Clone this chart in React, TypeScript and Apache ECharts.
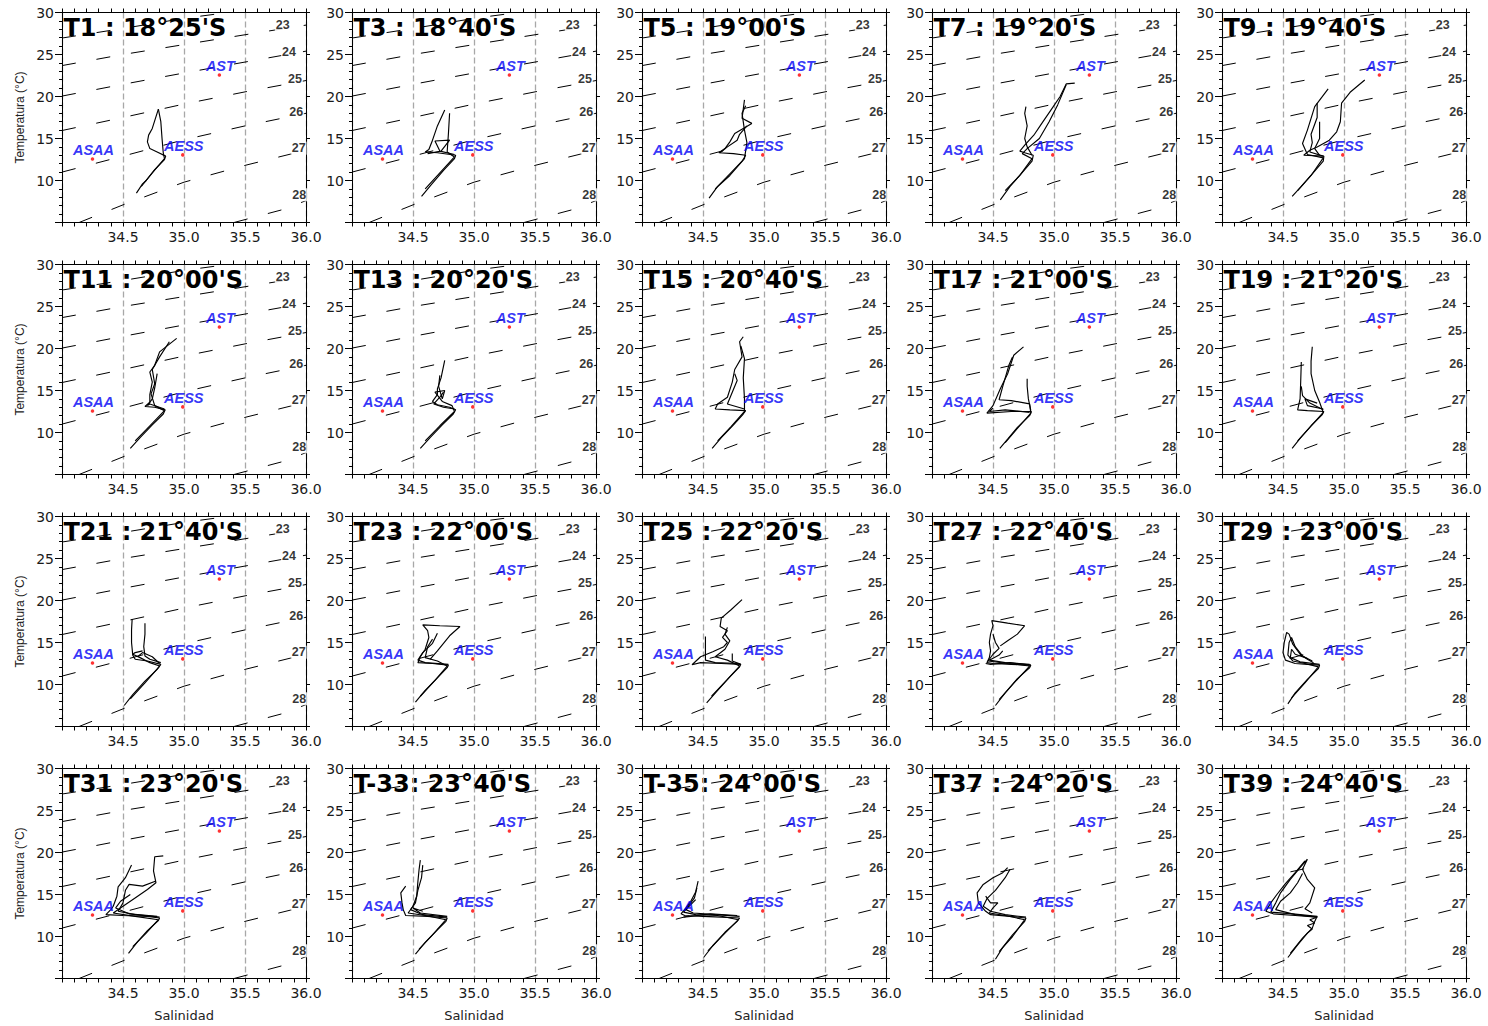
import React, { useEffect, useRef } from 'react';
import * as echarts from 'echarts';

// Transect titles, in reading order (5 per row)
const TRANSECT_TITLES = [
  "T1 : 18°25'S", "T3 : 18°40'S", "T5 : 19°00'S", "T7 : 19°20'S", "T9 : 19°40'S",
  "T11 : 20°00'S", "T13 : 20°20'S", "T15 : 20°40'S", "T17 : 21°00'S", "T19 : 21°20'S",
  "T21 : 21°40'S", "T23 : 22°00'S", "T25 : 22°20'S", "T27 : 22°40'S", "T29 : 23°00'S",
  "T31 : 23°20'S", "T-33: 23°40'S", "T-35: 24°00'S", "T37 : 24°20'S", "T39 : 24°40'S",
];

// Axis ranges
const SAL_MIN = 34, SAL_MAX = 36, SAL_STEP = 0.5;
const TEMP_MIN = 5, TEMP_MAX = 30, TEMP_STEP = 5;

// Isopycnals (sigma-t), as [salinity, temperature] vertices
const SIGMA_22 = [[34, 26.96], [34.5, 28.1], [35, 29.3], [35.36, 30]];
const SIGMA_23 = [[34, 23.68], [34.5, 25.0], [35, 26.18], [35.5, 27.35], [36, 28.5]];
const SIGMA_24 = [[34, 20.05], [34.5, 21.45], [35, 22.8], [35.5, 24.1], [36, 25.4]];
const SIGMA_25 = [[34, 15.95], [34.5, 17.5], [35, 19.1], [35.5, 20.55], [36, 21.9]];
const SIGMA_26 = [[34, 11.0], [34.5, 12.9], [35, 14.85], [35.5, 16.5], [36, 18.0]];
const SIGMA_27 = [[34.14, 5], [34.5, 7.1], [35, 9.8], [35.5, 11.8], [36, 13.6]];
const SIGMA_28 = [[35.41, 5], [35.8, 6.5], [36, 7.6]];
const SIGMA_LINES = [SIGMA_22, SIGMA_23, SIGMA_24, SIGMA_25, SIGMA_26, SIGMA_27, SIGMA_28];

// Isopycnal labels and where they sit
const SIGMA_LABELS = ['23', '24', '25', '26', '27', '28'];
const SIGMA_LABEL_S = [35.81, 35.86, 35.91, 35.92, 35.94, 35.945];
const SIGMA_LABEL_T = [28.5, 25.3, 22.1, 18.2, 13.85, 8.3];

// Reference water masses
const WATER_MASS_NAMES = ['ASAA', 'AESS', 'AST'];
const WATER_MASS_S = [34.25, 34.99, 35.29];
const WATER_MASS_T = [12.55, 13.05, 22.55];

// CTD casts per transect, [salinity, temperature]
const T1_CASTS = [
  [[34.61, 8.5], [34.66, 9.6], [34.69, 10.0], [34.76, 11.3], [34.84, 12.5], [34.85, 12.9], [34.78, 13.4], [34.72, 13.8], [34.70, 14.6], [34.71, 15.4], [34.74, 16.2], [34.79, 18.5]],
  [[34.65, 9.3], [34.74, 10.9], [34.84, 12.6], [34.83, 13.3], [34.82, 15.0], [34.81, 17.0], [34.79, 18.5]],
];
const T3_CASTS = [
  [[34.57, 8.1], [34.65, 9.5], [34.75, 11.2], [34.84, 12.6], [34.85, 13.0], [34.70, 13.3], [34.60, 13.4], [34.63, 13.7], [34.66, 14.8], [34.70, 16.5], [34.76, 18.4]],
  [[34.60, 9.0], [34.72, 10.9], [34.84, 12.8], [34.78, 13.4], [34.79, 15.5], [34.80, 18.0]],
  [[34.84, 13.1], [34.72, 13.5], [34.68, 14.7], [34.80, 14.8], [34.73, 13.5], [34.62, 13.2]],
];
const T5_CASTS = [
  [[34.55, 7.9], [34.62, 9.3], [34.72, 10.8], [34.82, 12.3], [34.85, 13.0], [34.75, 13.2], [34.63, 13.3], [34.68, 13.8], [34.72, 14.6], [34.76, 15.6], [34.90, 16.8], [34.82, 17.4], [34.84, 19.6]],
  [[34.60, 9.0], [34.72, 10.6], [34.84, 12.6], [34.86, 14.5], [34.84, 16.0], [34.82, 18.0], [34.85, 18.9]],
  [[34.64, 13.3], [34.70, 14.0], [34.78, 14.8], [34.80, 15.5], [34.86, 16.5]],
];
const T7_CASTS = [
  [[34.56, 7.7], [34.64, 9.3], [34.73, 10.8], [34.82, 12.3], [34.83, 13.0], [34.76, 13.3], [34.72, 13.5], [34.76, 14.2], [34.84, 15.5], [34.90, 16.8], [34.98, 18.5], [35.05, 20.0], [35.10, 21.5], [35.17, 21.6]],
  [[34.60, 8.8], [34.72, 10.6], [34.82, 12.6], [34.74, 13.2], [34.78, 13.8], [34.88, 15.0], [34.96, 17.0], [35.03, 19.0], [35.10, 21.4]],
  [[34.82, 13.0], [34.78, 14.0], [34.76, 15.0], [34.78, 16.5], [34.76, 18.0], [34.77, 18.8]],
];
const T9_CASTS = [
  [[34.575, 8.1], [34.65, 9.3], [34.74, 10.8], [34.83, 12.3], [34.835, 12.9], [34.67, 13.0], [34.72, 13.6], [34.78, 14.0], [34.88, 14.8], [34.94, 15.8], [34.97, 17.0], [34.98, 19.2], [35.05, 20.5], [35.17, 21.96]],
  [[34.62, 8.8], [34.73, 10.6], [34.83, 12.7], [34.70, 13.1], [34.66, 14.4], [34.70, 16.0], [34.76, 18.8], [34.87, 20.9]],
  [[34.83, 12.9], [34.72, 13.4], [34.74, 14.5], [34.73, 15.5], [34.78, 17.5], [34.78, 19.2]],
  [[34.80, 13.0], [34.76, 13.8], [34.80, 15.0], [34.80, 17.0]],
];
const T11_CASTS = [
  [[34.56, 8.1], [34.64, 9.4], [34.74, 10.9], [34.83, 12.2], [34.846, 12.7], [34.76, 13.0], [34.68, 13.1], [34.72, 13.6], [34.72, 14.5], [34.74, 16.0], [34.72, 17.2], [34.76, 18.0], [34.80, 19.6], [34.94, 21.2]],
  [[34.60, 9.0], [34.72, 10.8], [34.84, 12.6], [34.76, 13.2], [34.73, 14.6], [34.76, 15.8], [34.74, 17.5], [34.80, 19.0], [34.88, 20.8]],
  [[34.84, 12.8], [34.72, 13.4], [34.70, 13.2], [34.74, 14.0], [34.76, 15.3], [34.78, 17.0]],
];
const T13_CASTS = [
  [[34.56, 8.1], [34.64, 9.4], [34.74, 10.9], [34.83, 12.2], [34.85, 12.7], [34.80, 13.0], [34.70, 13.3], [34.66, 13.7], [34.70, 14.5], [34.70, 15.2], [34.73, 16.5], [34.76, 18.6]],
  [[34.60, 9.0], [34.72, 10.8], [34.84, 12.5], [34.82, 13.2], [34.74, 13.7], [34.68, 14.8], [34.76, 15.0], [34.74, 14.0], [34.71, 15.5], [34.72, 16.8]],
  [[34.84, 12.8], [34.75, 13.0], [34.67, 13.4], [34.72, 14.2], [34.75, 14.8]],
];
const T15_CASTS = [
  [[34.575, 8.1], [34.65, 9.4], [34.75, 10.9], [34.83, 12.2], [34.85, 12.6], [34.72, 12.7], [34.60, 12.8], [34.62, 13.4], [34.70, 14.2], [34.74, 16.0], [34.76, 17.5], [34.82, 19.0], [34.80, 20.8], [34.83, 21.4]],
  [[34.62, 9.0], [34.73, 10.7], [34.84, 12.5], [34.84, 14.0], [34.83, 16.5], [34.84, 18.8], [34.81, 20.3]],
  [[34.84, 12.8], [34.70, 13.4], [34.74, 14.8], [34.78, 16.2], [34.76, 17.0]],
];
const T17_CASTS = [
  [[34.556, 8.1], [34.62, 9.2], [34.70, 10.6], [34.80, 12.0], [34.815, 12.5], [34.65, 12.5], [34.45, 12.3], [34.50, 13.2], [34.56, 15.2], [34.62, 17.0], [34.67, 19.2], [34.75, 20.2]],
  [[34.60, 8.8], [34.70, 10.5], [34.81, 12.3], [34.80, 13.4], [34.65, 13.8], [34.55, 13.9], [34.58, 15.5], [34.63, 18.0], [34.66, 19.0]],
  [[34.81, 12.6], [34.79, 14.0], [34.78, 15.5], [34.78, 16.4]],
  [[34.80, 12.4], [34.60, 12.7], [34.47, 12.5], [34.50, 12.9]],
];
const T19_CASTS = [
  [[34.575, 8.1], [34.64, 9.3], [34.73, 10.8], [34.82, 12.1], [34.835, 12.5], [34.70, 12.6], [34.62, 12.7], [34.64, 14.0], [34.645, 16.0], [34.65, 18.4]],
  [[34.62, 9.0], [34.72, 10.6], [34.83, 12.4], [34.80, 13.6], [34.76, 15.0], [34.73, 17.0], [34.73, 18.5], [34.74, 20.2]],
  [[34.83, 12.7], [34.72, 13.5], [34.66, 14.4], [34.65, 15.5]],
  [[34.83, 12.8], [34.70, 13.2], [34.68, 14.0], [34.78, 13.5]],
];
const T21_CASTS = [
  [[34.51, 7.5], [34.58, 8.8], [34.68, 10.4], [34.78, 11.8], [34.81, 12.4], [34.70, 12.8], [34.60, 13.0], [34.58, 13.5], [34.57, 15.0], [34.57, 16.5], [34.575, 17.8]],
  [[34.56, 8.3], [34.68, 10.2], [34.80, 12.2], [34.72, 12.6], [34.64, 13.2], [34.58, 13.6], [34.60, 13.8], [34.66, 14.0]],
  [[34.81, 12.6], [34.72, 13.0], [34.68, 13.4], [34.67, 14.5], [34.68, 16.0], [34.68, 17.3]],
  [[34.80, 12.5], [34.74, 13.3], [34.66, 13.8], [34.62, 13.3]],
];
const T23_CASTS = [
  [[34.52, 7.9], [34.60, 9.3], [34.70, 10.8], [34.78, 12.0], [34.79, 12.3], [34.66, 12.5], [34.54, 12.6], [34.56, 13.3], [34.60, 14.2], [34.63, 15.6], [34.62, 16.4], [34.58, 17.1], [34.72, 17.0], [34.885, 16.9], [34.80, 15.8], [34.70, 14.0], [34.64, 13.0]],
  [[34.56, 8.6], [34.68, 10.5], [34.78, 12.2], [34.70, 12.8], [34.60, 13.2], [34.62, 14.5], [34.66, 15.4]],
  [[34.79, 12.4], [34.60, 12.6], [34.54, 12.9], [34.58, 13.8], [34.66, 14.9], [34.70, 16.1]],
];
const T25_CASTS = [
  [[34.53, 7.8], [34.62, 9.3], [34.72, 10.9], [34.80, 12.1], [34.81, 12.4], [34.65, 12.5], [34.48, 12.6], [34.41, 12.35], [34.48, 13.3], [34.58, 13.9], [34.67, 14.5], [34.70, 15.0], [34.66, 15.6], [34.70, 16.4], [34.64, 16.9], [34.65, 17.9], [34.73, 18.9], [34.82, 20.1]],
  [[34.57, 8.6], [34.70, 10.6], [34.80, 12.2], [34.70, 12.9], [34.60, 13.3], [34.68, 14.2], [34.72, 15.2], [34.68, 16.0], [34.70, 16.8]],
  [[34.80, 12.5], [34.60, 12.6], [34.52, 12.9], [34.52, 14.5], [34.52, 15.7]],
  [[34.81, 12.4], [34.74, 12.8], [34.74, 13.7]],
];
const T27_CASTS = [
  [[34.52, 7.5], [34.60, 9.0], [34.70, 10.7], [34.80, 12.0], [34.81, 12.3], [34.65, 12.4], [34.50, 12.5], [34.45, 12.6], [34.47, 13.2], [34.48, 14.0], [34.47, 15.0], [34.48, 16.0], [34.50, 17.0], [34.49, 17.6], [34.62, 17.3], [34.76, 17.0], [34.70, 16.0], [34.62, 15.2], [34.56, 14.6]],
  [[34.55, 8.2], [34.68, 10.3], [34.80, 12.2], [34.62, 12.5], [34.46, 12.8], [34.50, 13.6], [34.55, 14.3], [34.52, 15.0], [34.50, 16.0]],
  [[34.80, 12.4], [34.60, 12.6], [34.47, 12.9], [34.55, 13.5], [34.58, 14.0]],
  [[34.81, 12.3], [34.64, 12.6], [34.48, 12.4], [34.44, 12.5]],
];
const T29_CASTS = [
  [[34.54, 7.7], [34.60, 9.0], [34.70, 10.6], [34.79, 11.9], [34.80, 12.3], [34.70, 12.4], [34.60, 12.5], [34.52, 12.9], [34.50, 13.8], [34.51, 15.0], [34.53, 16.2], [34.55, 16.0], [34.58, 14.8], [34.64, 13.6], [34.70, 13.0], [34.75, 12.6]],
  [[34.57, 8.4], [34.68, 10.2], [34.79, 12.1], [34.68, 12.5], [34.58, 12.8], [34.54, 13.5], [34.55, 15.0], [34.57, 15.6], [34.60, 14.5], [34.66, 13.4], [34.74, 12.8]],
  [[34.80, 12.4], [34.64, 12.7], [34.56, 13.2], [34.57, 14.2], [34.60, 13.6], [34.70, 13.1]],
];
const T31_CASTS = [
  [[34.545, 8.0], [34.62, 9.4], [34.70, 10.7], [34.79, 11.9], [34.80, 12.2], [34.70, 12.4], [34.50, 12.5], [34.36, 12.6], [34.40, 13.2], [34.42, 13.6], [34.45, 14.8], [34.46, 15.9], [34.52, 17.0], [34.57, 18.5]],
  [[34.58, 8.8], [34.69, 10.4], [34.79, 12.0], [34.60, 12.4], [34.42, 12.8], [34.50, 13.6], [34.62, 14.8], [34.70, 15.6], [34.77, 16.4], [34.75, 17.8], [34.76, 19.5], [34.83, 19.6]],
  [[34.80, 12.3], [34.60, 12.6], [34.46, 13.0], [34.50, 14.0], [34.52, 15.5], [34.55, 16.2], [34.66, 16.0], [34.77, 16.6]],
  [[34.78, 12.4], [34.55, 12.7], [34.44, 13.4], [34.48, 14.2], [34.56, 15.0]],
];
const T33_CASTS = [
  [[34.52, 7.9], [34.60, 9.3], [34.70, 10.8], [34.77, 11.8], [34.78, 12.2], [34.62, 12.4], [34.44, 12.5], [34.42, 13.2], [34.41, 14.0], [34.40, 15.2], [34.44, 16.0]],
  [[34.55, 8.5], [34.66, 10.2], [34.77, 12.0], [34.60, 12.5], [34.46, 12.8], [34.50, 13.6], [34.53, 14.8], [34.54, 16.5], [34.55, 18.0], [34.56, 19.1]],
  [[34.78, 12.3], [34.58, 12.6], [34.48, 13.2], [34.52, 14.0], [34.54, 15.5], [34.57, 17.0], [34.58, 18.5]],
  [[34.78, 12.4], [34.56, 12.8], [34.50, 13.4], [34.58, 13.0]],
];
const T35_CASTS = [
  [[34.505, 7.5], [34.58, 8.9], [34.68, 10.5], [34.78, 11.8], [34.80, 12.2], [34.65, 12.3], [34.50, 12.4], [34.35, 12.5], [34.32, 12.7], [34.36, 13.4], [34.40, 14.2], [34.44, 15.3], [34.46, 16.6]],
  [[34.54, 8.3], [34.66, 10.1], [34.79, 12.0], [34.62, 12.5], [34.44, 12.6], [34.34, 12.9], [34.38, 13.6], [34.43, 14.6], [34.45, 15.8]],
  [[34.80, 12.4], [34.60, 12.6], [34.42, 12.8], [34.36, 13.2], [34.40, 13.8], [34.44, 14.4]],
  [[34.78, 12.5], [34.56, 12.7], [34.40, 12.4], [34.34, 12.3]],
];
const T37_CASTS = [
  [[34.52, 7.3], [34.58, 8.7], [34.66, 10.2], [34.76, 11.8], [34.77, 12.2], [34.64, 12.4], [34.48, 12.6], [34.44, 13.0], [34.38, 14.0], [34.37, 15.2], [34.42, 16.2], [34.50, 17.0], [34.58, 17.6], [34.62, 18.2]],
  [[34.55, 8.2], [34.66, 10.0], [34.76, 12.0], [34.60, 12.5], [34.47, 12.8], [34.50, 13.4], [34.54, 14.0], [34.48, 14.0], [34.44, 14.8]],
  [[34.77, 12.3], [34.60, 12.6], [34.48, 13.0], [34.42, 13.6], [34.45, 14.5], [34.52, 15.5], [34.60, 17.0], [34.64, 18.0]],
];
const T39_CASTS = [
  [[34.54, 7.5], [34.62, 9.0], [34.70, 10.4], [34.74, 10.9], [34.70, 11.3], [34.76, 11.6], [34.72, 12.0], [34.78, 12.3], [34.60, 12.5], [34.42, 12.7], [34.36, 13.0], [34.40, 14.0], [34.45, 15.0], [34.52, 16.3], [34.60, 17.6], [34.68, 19.0]],
  [[34.56, 8.0], [34.66, 9.8], [34.74, 11.0], [34.76, 11.8], [34.78, 12.4], [34.58, 12.7], [34.40, 12.9], [34.44, 14.0], [34.48, 15.2], [34.56, 16.8], [34.64, 18.2], [34.70, 19.2], [34.66, 18.0], [34.70, 16.8], [34.76, 15.8], [34.72, 14.0], [34.68, 13.3], [34.74, 12.8]],
  [[34.78, 12.3], [34.60, 12.6], [34.44, 13.2], [34.48, 14.2], [34.56, 15.2], [34.62, 16.4], [34.66, 17.5]],
];

const TRANSECT_CASTS = [
  T1_CASTS, T3_CASTS, T5_CASTS, T7_CASTS, T9_CASTS,
  T11_CASTS, T13_CASTS, T15_CASTS, T17_CASTS, T19_CASTS,
  T21_CASTS, T23_CASTS, T25_CASTS, T27_CASTS, T29_CASTS,
  T31_CASTS, T33_CASTS, T35_CASTS, T37_CASTS, T39_CASTS,
];

// Panel layout
const COLS = 5;
const ROWS = 4;
const PANEL_LEFT = 62;
const PANEL_TOP = 12.5;
const PANEL_DX = 290;
const PANEL_DY = 252;
const PANEL_W = 244;
const PANEL_H = 210;

const WIDE_FONT = 'DejaVu Sans';
const ARIAL_FONT = 'Liberation Sans, Arial';
const AXIS_COLOR = '#000';

function buildOption() {
  const grid: any[] = [];
  const xAxis: any[] = [];
  const yAxis: any[] = [];
  const series: any[] = [];
  const graphic: any[] = [];

  TRANSECT_TITLES.forEach((title, i) => {
    const r = Math.floor(i / COLS);
    const c = i % COLS;
    const left = PANEL_LEFT + PANEL_DX * c;
    const top = PANEL_TOP + PANEL_DY * r;
    grid.push({ left, top, width: PANEL_W, height: PANEL_H, containLabel: false });

    const xb = xAxis.length;
    xAxis.push({
      gridIndex: i, type: 'value', position: 'bottom',
      min: SAL_MIN, max: SAL_MAX, interval: SAL_STEP,
      axisLine: { show: true, onZero: false, lineStyle: { color: AXIS_COLOR, width: 1 } },
      axisTick: { show: true, inside: false, length: 4, lineStyle: { color: AXIS_COLOR } },
      minorTick: { show: true, splitNumber: 5, length: 4, lineStyle: { color: AXIS_COLOR } },
      axisLabel: {
        show: true, margin: 7, fontSize: 14, color: '#1a1a1a', fontFamily: WIDE_FONT,
        formatter: (v: number) => (v === SAL_MIN ? '' : v.toFixed(1)),
      },
      splitLine: { show: true, lineStyle: { color: '#a8a8a8', width: 1.3, type: [6, 3] } },
    });
    xAxis.push({
      gridIndex: i, type: 'value', position: 'top',
      min: SAL_MIN, max: SAL_MAX, interval: SAL_STEP,
      axisLine: { show: true, onZero: false, lineStyle: { color: AXIS_COLOR, width: 1 } },
      axisTick: { show: true, inside: false, length: 4, lineStyle: { color: AXIS_COLOR } },
      minorTick: { show: true, splitNumber: 5, length: 4, lineStyle: { color: AXIS_COLOR } },
      axisLabel: { show: false },
      splitLine: { show: false },
    });
    const yb = yAxis.length;
    yAxis.push({
      gridIndex: i, type: 'value', position: 'left',
      min: TEMP_MIN, max: TEMP_MAX, interval: TEMP_STEP,
      axisLine: { show: true, onZero: false, lineStyle: { color: AXIS_COLOR, width: 1 } },
      axisTick: { show: true, inside: false, length: 7, lineStyle: { color: AXIS_COLOR } },
      minorTick: { show: true, splitNumber: 5, length: 3, lineStyle: { color: AXIS_COLOR } },
      axisLabel: {
        show: true, margin: 8, fontSize: 14, color: '#1a1a1a', fontFamily: WIDE_FONT,
        formatter: (v: number) => (v === TEMP_MIN ? '' : String(v)),
      },
      splitLine: { show: false },
    });
    yAxis.push({
      gridIndex: i, type: 'value', position: 'right',
      min: TEMP_MIN, max: TEMP_MAX, interval: TEMP_STEP,
      axisLine: { show: true, onZero: false, lineStyle: { color: AXIS_COLOR, width: 1 } },
      axisTick: { show: true, inside: false, length: 4, lineStyle: { color: AXIS_COLOR } },
      axisLabel: { show: false },
      splitLine: { show: false },
    });

    // isopycnals
    SIGMA_LINES.forEach((pts) => {
      series.push({
        type: 'line', xAxisIndex: xb, yAxisIndex: yb, data: pts,
        symbol: 'none', silent: true, clip: true, z: 3,
        lineStyle: { color: '#000', width: 1, type: [14, 21] },
      });
    });

    // CTD casts
    TRANSECT_CASTS[i].forEach((cast) => {
      series.push({
        type: 'line', xAxisIndex: xb, yAxisIndex: yb, data: cast,
        symbol: 'none', silent: true, clip: true, z: 4,
        lineStyle: { color: '#000', width: 1.15 },
      });
    });

    // isopycnal labels
    series.push({
      type: 'scatter', xAxisIndex: xb, yAxisIndex: yb, silent: true, z: 5,
      symbolSize: 1, itemStyle: { color: 'rgba(0,0,0,0)' },
      data: SIGMA_LABELS.map((name, k) => ({ name, value: [SIGMA_LABEL_S[k], SIGMA_LABEL_T[k]] })),
      label: {
        show: true, position: 'inside', formatter: '{b}',
        color: '#000', fontSize: 12.5, fontWeight: 'bold', fontFamily: ARIAL_FONT,
        backgroundColor: '#fff', padding: [0, 1],
      },
    });

    // water masses
    series.push({
      type: 'scatter', xAxisIndex: xb, yAxisIndex: yb, silent: true, z: 6,
      symbolSize: 3.5, itemStyle: { color: '#ff0000' },
      data: WATER_MASS_NAMES.map((name, k) => ({ name, value: [WATER_MASS_S[k], WATER_MASS_T[k]] })),
      label: {
        show: true, position: 'inside', offset: [1, -9], formatter: '{b}',
        color: '#0000f5', fontSize: 14.5, fontWeight: 'bold', fontStyle: 'italic', fontFamily: ARIAL_FONT,
      },
    });

    // panel title
    graphic.push({
      type: 'text', x: left + 1.5, y: top + 15, z: 0, silent: true,
      style: {
        text: title, fill: '#000', fontSize: 24, fontWeight: 'bold', fontFamily: WIDE_FONT,
        align: 'left', verticalAlign: 'middle',
      },
    });

    if (c === 0) {
      graphic.push({
        type: 'text', x: 20, y: top + PANEL_H / 2, rotation: Math.PI / 2, z: 0, silent: true,
        style: {
          text: 'Temperatura (°C)', fill: '#222', fontSize: 12, fontFamily: ARIAL_FONT,
          align: 'center', verticalAlign: 'middle',
        },
      });
    }
    if (r === ROWS - 1) {
      graphic.push({
        type: 'text', x: left + PANEL_W / 2, y: top + PANEL_H + 37, z: 0, silent: true,
        style: {
          text: 'Salinidad', fill: '#222', fontSize: 13, fontFamily: WIDE_FONT,
          align: 'center', verticalAlign: 'middle',
        },
      });
    }
  });

  return {
    animation: false,
    backgroundColor: '#fff',
    grid, xAxis, yAxis, series, graphic,
  };
}

export default function App() {
  const ref = useRef<HTMLDivElement | null>(null);
  useEffect(() => {
    if (!ref.current) return;
    const chart = echarts.init(ref.current, undefined, { renderer: 'svg' });
    chart.setOption(buildOption());
    return () => chart.dispose();
  }, []);
  return (
    <div
      ref={ref}
      style={{ position: 'absolute', left: 0, top: 0, width: 1488, height: 1026, background: '#fff' }}
    />
  );
}
